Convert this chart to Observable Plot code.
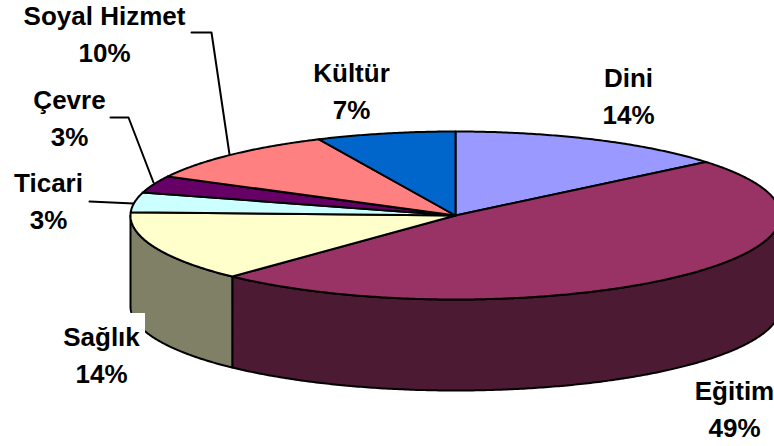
<!DOCTYPE html>
<html>
<head>
<meta charset="utf-8">
<script src="https://cdn.jsdelivr.net/npm/d3@7"></script>
<script src="https://cdn.jsdelivr.net/npm/@observablehq/plot@0.6"></script>
<style>
html,body{margin:0;padding:0;background:#fff;overflow:hidden}
svg{display:block}
</style>
</head>
<body>
<div id="chart"></div>
<script>
// Data
const categories = ["Dini", "Eğitim", "Sağlık", "Ticari", "Çevre", "Soyal Hizmet", "Kültür"];
const labelPercents = [14, 49, 14, 3, 3, 10, 7];
// Share of the ellipse each slice occupies as drawn (3-D tilt distorts it from the printed %)
const drawnShares = [14, 48.05, 13.55, 3.8, 3.3, 10.4, 6.9];
const sliceColors = ["#9999FF", "#993366", "#FFFFCC", "#CCFFFF", "#660066", "#FF8080", "#0066CC"];

// Layout
const W = 774, H = 446;
const pie = {cx: 455, cy: 215, rx: 325, ry: 84, depth: 91};
const labelCenters = {
  "Dini": [628, 93], "Eğitim": [734, 406], "Sağlık": [101, 352], "Ticari": [48, 198],
  "Çevre": [69, 115], "Soyal Hizmet": [104, 31], "Kültür": [351, 88]
};
const leaders = [
  {name: "Soyal Hizmet", pts: [[191, 32], [211, 32], [229, 154]]},
  {name: "Çevre", pts: [[110, 117], [128, 117], [153, 182]]},
  {name: "Ticari", pts: [[89, 201], [133, 203]]}
];
const labelBox = {x1: 60, x2: 145, y1: 313, y2: 362};

// Geometry derived from the shares
const rim = (frac, dz = 0) => {
  const a = frac * 2 * Math.PI;
  return {x: pie.cx + pie.rx * Math.sin(a), y: pie.cy - pie.ry * Math.cos(a) + dz};
};
const total = d3.sum(drawnShares);
const cum = Array.from(d3.cumsum(drawnShares), v => v / total);
const starts = [0, ...cum.slice(0, -1)];
const arcPts = (a0, a1, dz = 0) => {
  const n = Math.max(2, Math.ceil((a1 - a0) * 720));
  return d3.range(n + 1).map(i => rim(a0 + (a1 - a0) * i / n, dz));
};

const topRows = categories.flatMap((name, i) =>
  [{x: pie.cx, y: pie.cy}, ...arcPts(starts[i], cum[i])].map(p => ({...p, slice: name, fill: sliceColors[i]}))
);
const sideRows = categories.flatMap((name, i) => {
  const a0 = Math.max(starts[i], 0.25), a1 = Math.min(cum[i], 0.75);
  if (a1 <= a0) return [];
  const fill = d3.interpolateRgb(sliceColors[i], "black")(0.5);
  return [...arcPts(a0, a1), ...arcPts(a0, a1, pie.depth).reverse()].map(p => ({...p, slice: name, fill}));
});
const leaderRows = leaders.flatMap(l => l.pts.map(([x, y]) => ({x, y, name: l.name})));
const labelRows = categories.map((name, i) => ({
  x: labelCenters[name][0], y: labelCenters[name][1], text: `${name}\n${labelPercents[i]}%`
}));

const chart = Plot.plot({
  width: W, height: H, margin: 0,
  x: {domain: [0, W], range: [0, W], axis: null},
  y: {domain: [0, H], range: [0, H], axis: null},
  color: {type: "identity"},
  style: {background: "#fff"},
  marks: [
    Plot.line(sideRows, {x: "x", y: "y", z: "slice", fill: "fill", stroke: "#000", strokeWidth: 2, curve: "linear-closed", strokeLinejoin: "round"}),
    Plot.line(topRows, {x: "x", y: "y", z: "slice", fill: "fill", stroke: "#000", strokeWidth: 2, curve: "linear-closed", strokeLinejoin: "round"}),
    Plot.rect([labelBox], {x1: "x1", x2: "x2", y1: "y1", y2: "y2", fill: "#fff"}),
    Plot.line(leaderRows, {x: "x", y: "y", z: "name", stroke: "#000", strokeWidth: 2}),
    Plot.text(labelRows, {x: "x", y: "y", text: "text", fontFamily: "Liberation Sans", fontWeight: "bold", fontSize: 26, lineHeight: 1.42, fill: "#000"})
  ]
});
document.getElementById("chart").append(chart);
</script>
</body>
</html>
